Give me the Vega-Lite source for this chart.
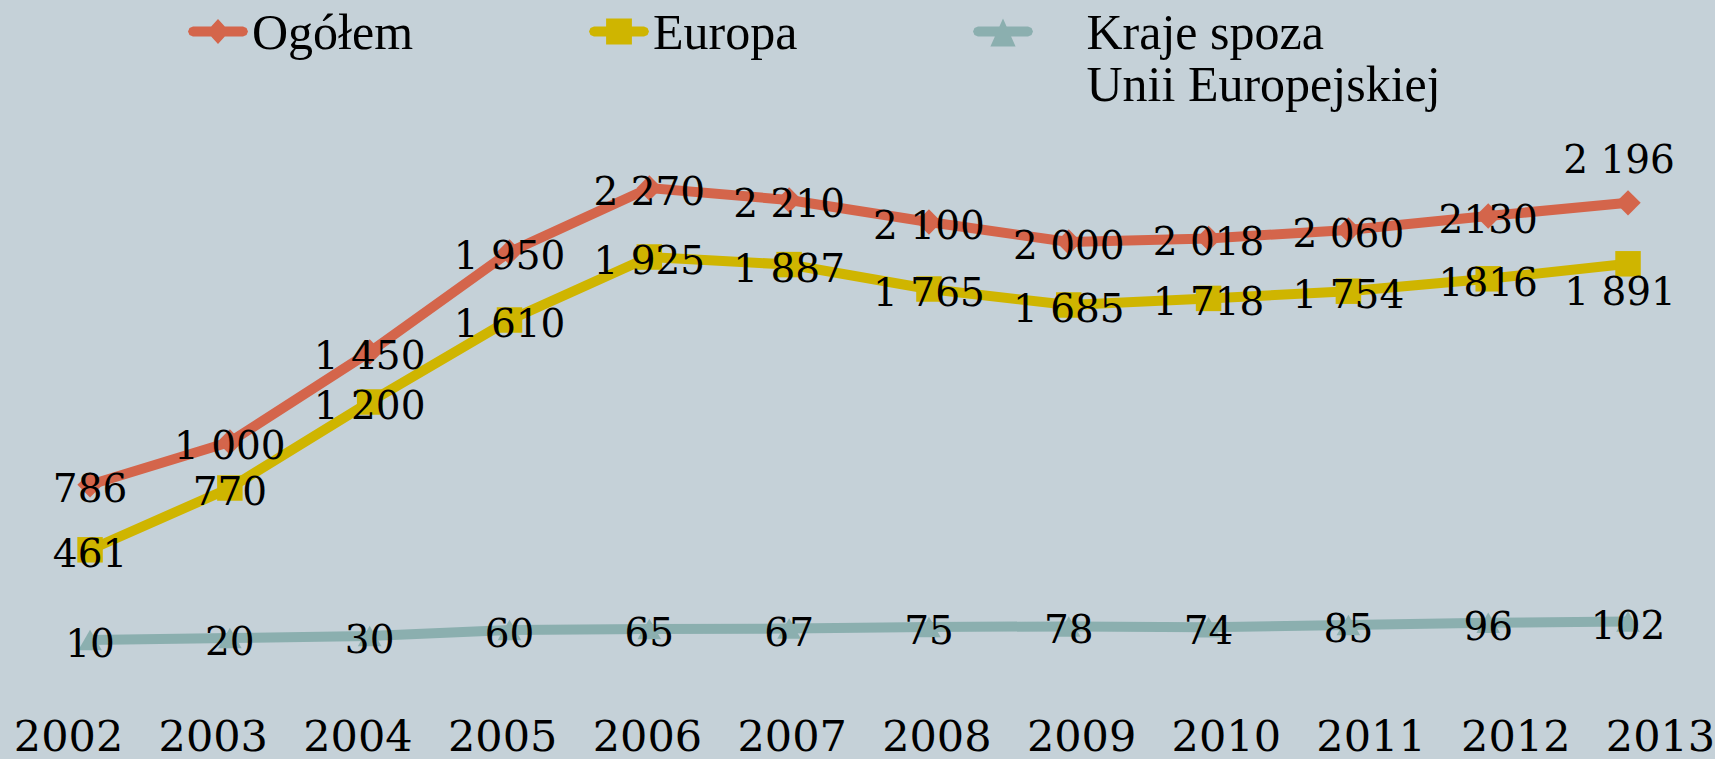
{
  "$schema": "https://vega.github.io/schema/vega-lite/v6.json",
  "width": 1715,
  "height": 642,
  "autosize": "none",
  "padding": {"left": 0, "right": 0, "top": 0, "bottom": 117},
  "background": "#C5D1D8",
  "config": {"view": {"stroke": null}},
  "data": {"values": [
    {"rok": 2002, "seria": "Ogółem", "wartosc": 786, "etykieta": "786"},
    {"rok": 2003, "seria": "Ogółem", "wartosc": 1000, "etykieta": "1 000"},
    {"rok": 2004, "seria": "Ogółem", "wartosc": 1450, "etykieta": "1 450"},
    {"rok": 2005, "seria": "Ogółem", "wartosc": 1950, "etykieta": "1 950"},
    {"rok": 2006, "seria": "Ogółem", "wartosc": 2270, "etykieta": "2 270"},
    {"rok": 2007, "seria": "Ogółem", "wartosc": 2210, "etykieta": "2 210"},
    {"rok": 2008, "seria": "Ogółem", "wartosc": 2100, "etykieta": "2 100"},
    {"rok": 2009, "seria": "Ogółem", "wartosc": 2000, "etykieta": "2 000"},
    {"rok": 2010, "seria": "Ogółem", "wartosc": 2018, "etykieta": "2 018"},
    {"rok": 2011, "seria": "Ogółem", "wartosc": 2060, "etykieta": "2 060"},
    {"rok": 2012, "seria": "Ogółem", "wartosc": 2130, "etykieta": "2130"},
    {"rok": 2013, "seria": "Ogółem", "wartosc": 2196, "etykieta": "2 196"},
    {"rok": 2002, "seria": "Europa", "wartosc": 461, "etykieta": "461"},
    {"rok": 2003, "seria": "Europa", "wartosc": 770, "etykieta": "770"},
    {"rok": 2004, "seria": "Europa", "wartosc": 1200, "etykieta": "1 200"},
    {"rok": 2005, "seria": "Europa", "wartosc": 1610, "etykieta": "1 610"},
    {"rok": 2006, "seria": "Europa", "wartosc": 1925, "etykieta": "1 925"},
    {"rok": 2007, "seria": "Europa", "wartosc": 1887, "etykieta": "1 887"},
    {"rok": 2008, "seria": "Europa", "wartosc": 1765, "etykieta": "1 765"},
    {"rok": 2009, "seria": "Europa", "wartosc": 1685, "etykieta": "1 685"},
    {"rok": 2010, "seria": "Europa", "wartosc": 1718, "etykieta": "1 718"},
    {"rok": 2011, "seria": "Europa", "wartosc": 1754, "etykieta": "1 754"},
    {"rok": 2012, "seria": "Europa", "wartosc": 1816, "etykieta": "1816"},
    {"rok": 2013, "seria": "Europa", "wartosc": 1891, "etykieta": "1 891"},
    {"rok": 2002, "seria": "Kraje spoza Unii Europejskiej", "wartosc": 10, "etykieta": "10"},
    {"rok": 2003, "seria": "Kraje spoza Unii Europejskiej", "wartosc": 20, "etykieta": "20"},
    {"rok": 2004, "seria": "Kraje spoza Unii Europejskiej", "wartosc": 30, "etykieta": "30"},
    {"rok": 2005, "seria": "Kraje spoza Unii Europejskiej", "wartosc": 60, "etykieta": "60"},
    {"rok": 2006, "seria": "Kraje spoza Unii Europejskiej", "wartosc": 65, "etykieta": "65"},
    {"rok": 2007, "seria": "Kraje spoza Unii Europejskiej", "wartosc": 67, "etykieta": "67"},
    {"rok": 2008, "seria": "Kraje spoza Unii Europejskiej", "wartosc": 75, "etykieta": "75"},
    {"rok": 2009, "seria": "Kraje spoza Unii Europejskiej", "wartosc": 78, "etykieta": "78"},
    {"rok": 2010, "seria": "Kraje spoza Unii Europejskiej", "wartosc": 74, "etykieta": "74"},
    {"rok": 2011, "seria": "Kraje spoza Unii Europejskiej", "wartosc": 85, "etykieta": "85"},
    {"rok": 2012, "seria": "Kraje spoza Unii Europejskiej", "wartosc": 96, "etykieta": "96"},
    {"rok": 2013, "seria": "Kraje spoza Unii Europejskiej", "wartosc": 102, "etykieta": "102"}
  ]},
  "resolve": {"scale": {"x": "independent"}, "axis": {"x": "independent"}},
  "layer": [
    {
      "mark": {"type": "point", "opacity": 0},
      "encoding": {
        "x": {"field": "rok", "type": "quantitative",
              "scale": {"domain": [2001.530, 2013.380], "nice": false, "zero": false},
              "axis": {"orient": "bottom", "values": [2002,2003,2004,2005,2006,2007,2008,2009,2010,2011,2012,2013],
                       "format": "d", "title": null, "domain": false, "ticks": false, "tickSize": 0, "grid": false,
                       "labelFont": "DejaVu Serif", "labelFontSize": 43, "labelColor": "#000000",
                       "labelBaseline": "alphabetic", "labelPadding": 108, "labelAlign": "center",
                       "labelOverlap": false, "labelFlush": false, "labelBound": false}},
        "y": {"field": "wartosc", "type": "quantitative", "scale": {"domain": [0, 3210], "nice": false, "zero": true}, "axis": null}
      }
    },
    {
      "layer": [
        {
          "transform": [{"filter": "datum.rok < 0"}],
          "mark": {"type": "point", "filled": true, "size": 3600, "opacity": 1},
          "encoding": {
            "x": {"field": "rok", "type": "quantitative"},
            "y": {"field": "wartosc", "type": "quantitative"},
            "color": {"field": "seria", "type": "nominal",
              "scale": {"domain": ["Ogółem", "Europa", "Kraje spoza Unii Europejskiej"], "range": ["#D4654B", "#CFB500", "#8BAFAF"]},
              "legend": {
                "title": null, "orient": "none", "legendX": 188, "legendY": -21,
                "direction": "horizontal", "columns": 3, "columnPadding": 175, "padding": 0,
                "symbolSize": 3600, "symbolOpacity": 1, "symbolStrokeWidth": 0,
                "labelOffset": 4, "labelLimit": 800,
                "labelFont": "Liberation Serif", "labelFontSize": 50, "labelColor": "#000000",
                "labelBaseline": "top",
                "labelExpr": "datum.value == 'Kraje spoza Unii Europejskiej' ? ['\u2800 Kraje spoza', '\u2800 Unii Europejskiej'] : [datum.value, '']"
              }},
            "shape": {"field": "seria", "type": "nominal",
              "scale": {"domain": ["Ogółem", "Europa", "Kraje spoza Unii Europejskiej"],
                        "range": ["M-0.833,0.583L0.833,0.583L0.951,0.632L1,0.75L0.951,0.868L0.833,0.917L-0.833,0.917L-0.951,0.868L-1,0.75L-0.951,0.632Z M0,0.33L0.38,0.75L0,1.17L-0.38,0.75Z",
                                  "M-0.833,0.583L0.833,0.583L0.951,0.632L1,0.75L0.951,0.868L0.833,0.917L-0.833,0.917L-0.951,0.868L-1,0.75L-0.951,0.632Z M-0.43,0.32L0.43,0.32L0.43,1.18L-0.43,1.18Z",
                                  "M-0.833,0.583L0.833,0.583L0.951,0.632L1,0.75L0.951,0.868L0.833,0.917L-0.833,0.917L-0.951,0.868L-1,0.75L-0.951,0.632Z M0,0.32L0.42,1.25L-0.42,1.25Z"]}}
          }
        },
        {
          "transform": [{"filter": "datum.seria == 'Kraje spoza Unii Europejskiej'"}],
          "mark": {"type": "line", "strokeWidth": 10, "strokeJoin": "miter", "color": "#8BAFAF"},
          "encoding": {"x": {"field": "rok", "type": "quantitative"}, "y": {"field": "wartosc", "type": "quantitative"}}
        },
        {
          "transform": [{"filter": "datum.seria == 'Europa'"}],
          "mark": {"type": "line", "strokeWidth": 10, "strokeJoin": "miter", "color": "#CFB500"},
          "encoding": {"x": {"field": "rok", "type": "quantitative"}, "y": {"field": "wartosc", "type": "quantitative"}}
        },
        {
          "transform": [{"filter": "datum.seria == 'Ogółem'"}],
          "mark": {"type": "line", "strokeWidth": 10, "strokeJoin": "miter", "color": "#D4654B"},
          "encoding": {"x": {"field": "rok", "type": "quantitative"}, "y": {"field": "wartosc", "type": "quantitative"}}
        },
        {
          "transform": [{"filter": "datum.seria == 'Kraje spoza Unii Europejskiej'"}],
          "mark": {"type": "point", "filled": true, "opacity": 1, "shape": "triangle-up", "size": 560, "color": "#8BAFAF"},
          "encoding": {"x": {"field": "rok", "type": "quantitative"}, "y": {"field": "wartosc", "type": "quantitative"}}
        },
        {
          "transform": [{"filter": "datum.seria == 'Europa'"}],
          "mark": {"type": "point", "filled": true, "opacity": 1, "shape": "square", "size": 650, "color": "#CFB500"},
          "encoding": {"x": {"field": "rok", "type": "quantitative"}, "y": {"field": "wartosc", "type": "quantitative"}}
        },
        {
          "transform": [{"filter": "datum.seria == 'Ogółem'"}],
          "mark": {"type": "point", "filled": true, "opacity": 1, "shape": "diamond", "size": 640, "color": "#D4654B"},
          "encoding": {"x": {"field": "rok", "type": "quantitative"}, "y": {"field": "wartosc", "type": "quantitative"}}
        },
        {
          "transform": [{"filter": "!(datum.rok == 2013 && datum.seria != 'Kraje spoza Unii Europejskiej')"}],
          "mark": {"type": "text", "font": "DejaVu Serif", "fontSize": 39, "color": "#000000", "baseline": "alphabetic", "align": "center", "dy": 17},
          "encoding": {
            "x": {"field": "rok", "type": "quantitative"},
            "y": {"field": "wartosc", "type": "quantitative"},
            "text": {"field": "etykieta"}
          }
        },
        {
          "transform": [{"filter": "datum.rok == 2013 && datum.seria == 'Ogółem'"}],
          "mark": {"type": "text", "font": "DejaVu Serif", "fontSize": 39, "color": "#000000", "baseline": "alphabetic", "align": "center", "dy": -30, "dx": -9},
          "encoding": {
            "x": {"field": "rok", "type": "quantitative"},
            "y": {"field": "wartosc", "type": "quantitative"},
            "text": {"field": "etykieta"}
          }
        },
        {
          "transform": [{"filter": "datum.rok == 2013 && datum.seria == 'Europa'"}],
          "mark": {"type": "text", "font": "DejaVu Serif", "fontSize": 39, "color": "#000000", "baseline": "alphabetic", "align": "center", "dy": 41, "dx": -8},
          "encoding": {
            "x": {"field": "rok", "type": "quantitative"},
            "y": {"field": "wartosc", "type": "quantitative"},
            "text": {"field": "etykieta"}
          }
        }
      ],
      "encoding": {
        "x": {"field": "rok", "type": "quantitative",
              "scale": {"domain": [2001.356, 2013.622], "nice": false, "zero": false}, "axis": null}
      }
    }
  ]
}
